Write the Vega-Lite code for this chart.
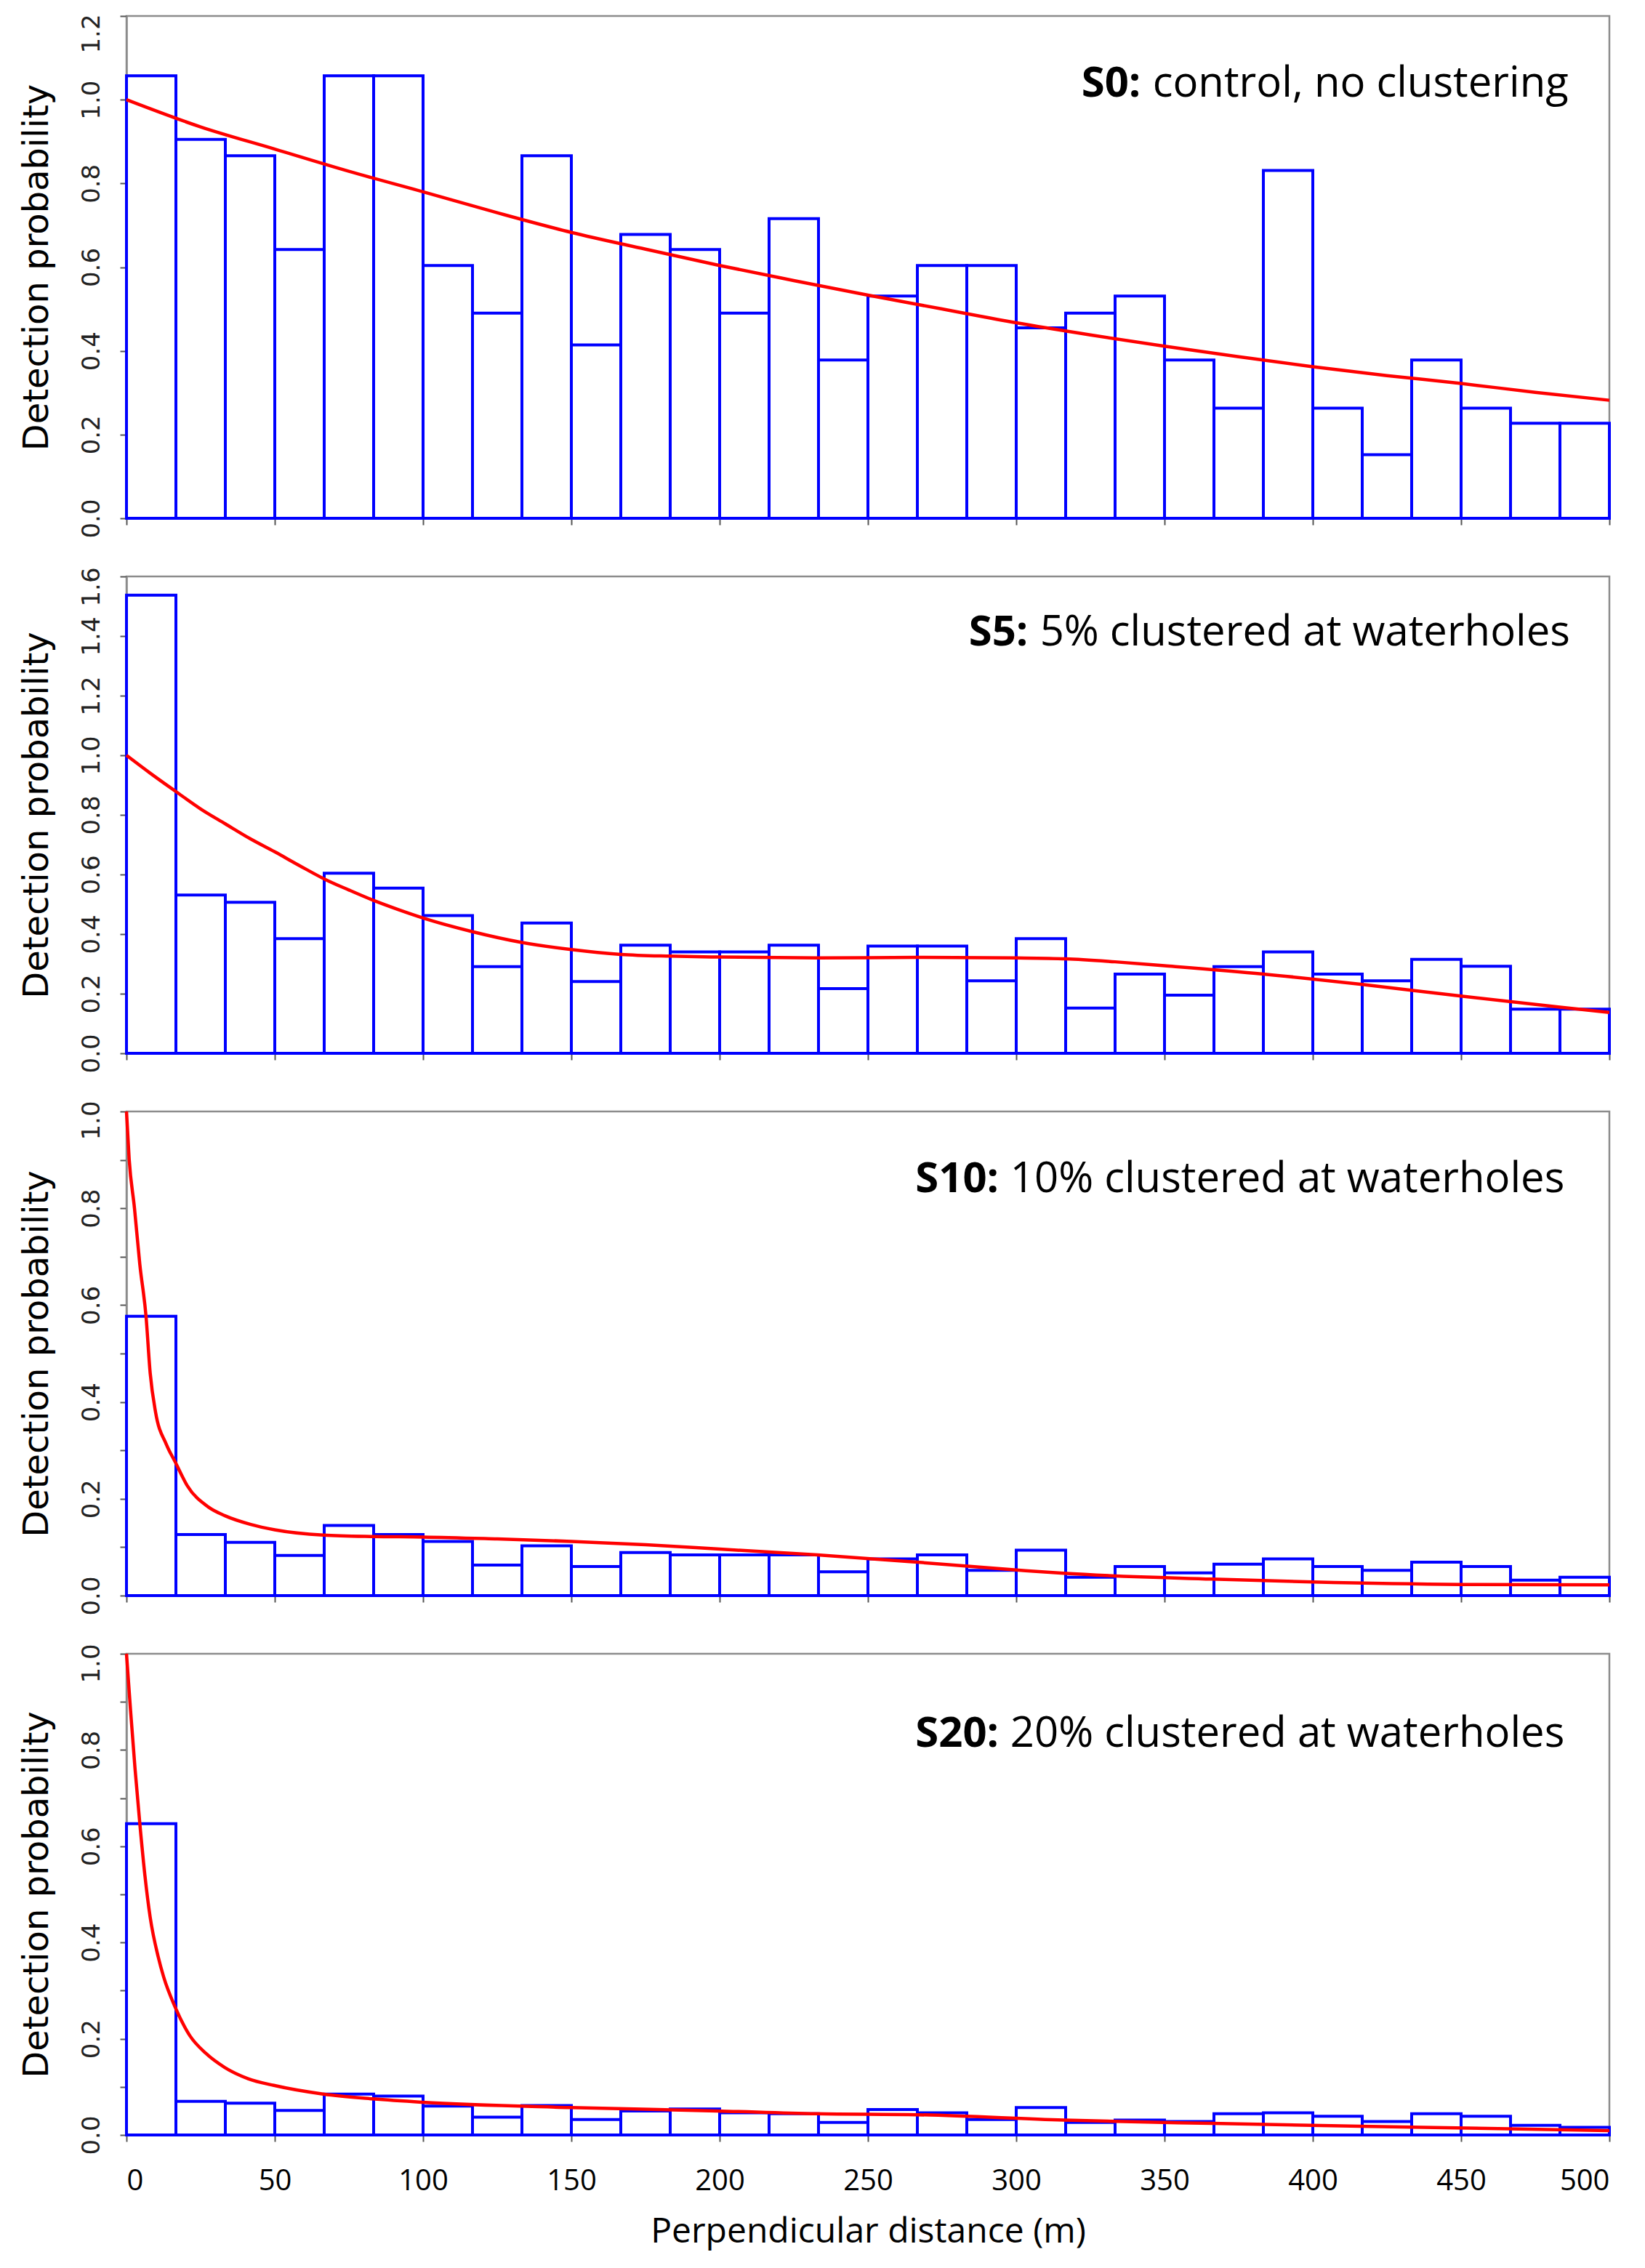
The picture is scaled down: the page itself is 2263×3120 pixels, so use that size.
{
  "$schema": "https://vega.github.io/schema/vega-lite/v6.json",
  "background": "white",
  "autosize": {"type": "pad"},
  "padding": {"left": 25, "top": 17, "right": 0, "bottom": 0},
  "bounds": "flush",
  "spacing": 80,
  "datasets": {
    "bars": [
      {"s":"S0","a":0,"b":16.667,"p":1.057},{"s":"S0","a":16.667,"b":33.333,"p":0.905},{"s":"S0","a":33.333,"b":50,"p":0.866},{"s":"S0","a":50,"b":66.667,"p":0.642},{"s":"S0","a":66.667,"b":83.333,"p":1.057},{"s":"S0","a":83.333,"b":100,"p":1.057},{"s":"S0","a":100,"b":116.667,"p":0.604},{"s":"S0","a":116.667,"b":133.333,"p":0.49},{"s":"S0","a":133.333,"b":150,"p":0.866},{"s":"S0","a":150,"b":166.667,"p":0.414},{"s":"S0","a":166.667,"b":183.333,"p":0.678},{"s":"S0","a":183.333,"b":200,"p":0.642},{"s":"S0","a":200,"b":216.667,"p":0.49},{"s":"S0","a":216.667,"b":233.333,"p":0.716},{"s":"S0","a":233.333,"b":250,"p":0.378},{"s":"S0","a":250,"b":266.667,"p":0.531},{"s":"S0","a":266.667,"b":283.333,"p":0.604},{"s":"S0","a":283.333,"b":300,"p":0.604},{"s":"S0","a":300,"b":316.667,"p":0.455},{"s":"S0","a":316.667,"b":333.333,"p":0.49},{"s":"S0","a":333.333,"b":350,"p":0.531},{"s":"S0","a":350,"b":366.667,"p":0.378},{"s":"S0","a":366.667,"b":383.333,"p":0.263},{"s":"S0","a":383.333,"b":400,"p":0.831},{"s":"S0","a":400,"b":416.667,"p":0.263},{"s":"S0","a":416.667,"b":433.333,"p":0.152},{"s":"S0","a":433.333,"b":450,"p":0.378},{"s":"S0","a":450,"b":466.667,"p":0.263},{"s":"S0","a":466.667,"b":483.333,"p":0.227},{"s":"S0","a":483.333,"b":500,"p":0.227},
      {"s":"S5","a":0,"b":16.667,"p":1.537},{"s":"S5","a":16.667,"b":33.333,"p":0.531},{"s":"S5","a":33.333,"b":50,"p":0.507},{"s":"S5","a":50,"b":66.667,"p":0.385},{"s":"S5","a":66.667,"b":83.333,"p":0.604},{"s":"S5","a":83.333,"b":100,"p":0.554},{"s":"S5","a":100,"b":116.667,"p":0.462},{"s":"S5","a":116.667,"b":133.333,"p":0.291},{"s":"S5","a":133.333,"b":150,"p":0.437},{"s":"S5","a":150,"b":166.667,"p":0.241},{"s":"S5","a":166.667,"b":183.333,"p":0.363},{"s":"S5","a":183.333,"b":200,"p":0.34},{"s":"S5","a":200,"b":216.667,"p":0.34},{"s":"S5","a":216.667,"b":233.333,"p":0.363},{"s":"S5","a":233.333,"b":250,"p":0.217},{"s":"S5","a":250,"b":266.667,"p":0.36},{"s":"S5","a":266.667,"b":283.333,"p":0.36},{"s":"S5","a":283.333,"b":300,"p":0.243},{"s":"S5","a":300,"b":316.667,"p":0.385},{"s":"S5","a":316.667,"b":333.333,"p":0.152},{"s":"S5","a":333.333,"b":350,"p":0.266},{"s":"S5","a":350,"b":366.667,"p":0.195},{"s":"S5","a":366.667,"b":383.333,"p":0.291},{"s":"S5","a":383.333,"b":400,"p":0.34},{"s":"S5","a":400,"b":416.667,"p":0.266},{"s":"S5","a":416.667,"b":433.333,"p":0.243},{"s":"S5","a":433.333,"b":450,"p":0.315},{"s":"S5","a":450,"b":466.667,"p":0.292},{"s":"S5","a":466.667,"b":483.333,"p":0.148},{"s":"S5","a":483.333,"b":500,"p":0.148},
      {"s":"S10","a":0,"b":16.667,"p":0.577},{"s":"S10","a":16.667,"b":33.333,"p":0.126},{"s":"S10","a":33.333,"b":50,"p":0.11},{"s":"S10","a":50,"b":66.667,"p":0.083},{"s":"S10","a":66.667,"b":83.333,"p":0.145},{"s":"S10","a":83.333,"b":100,"p":0.126},{"s":"S10","a":100,"b":116.667,"p":0.112},{"s":"S10","a":116.667,"b":133.333,"p":0.063},{"s":"S10","a":133.333,"b":150,"p":0.103},{"s":"S10","a":150,"b":166.667,"p":0.06},{"s":"S10","a":166.667,"b":183.333,"p":0.089},{"s":"S10","a":183.333,"b":200,"p":0.084},{"s":"S10","a":200,"b":216.667,"p":0.084},{"s":"S10","a":216.667,"b":233.333,"p":0.084},{"s":"S10","a":233.333,"b":250,"p":0.049},{"s":"S10","a":250,"b":266.667,"p":0.076},{"s":"S10","a":266.667,"b":283.333,"p":0.084},{"s":"S10","a":283.333,"b":300,"p":0.052},{"s":"S10","a":300,"b":316.667,"p":0.094},{"s":"S10","a":316.667,"b":333.333,"p":0.038},{"s":"S10","a":333.333,"b":350,"p":0.06},{"s":"S10","a":350,"b":366.667,"p":0.047},{"s":"S10","a":366.667,"b":383.333,"p":0.065},{"s":"S10","a":383.333,"b":400,"p":0.076},{"s":"S10","a":400,"b":416.667,"p":0.06},{"s":"S10","a":416.667,"b":433.333,"p":0.052},{"s":"S10","a":433.333,"b":450,"p":0.069},{"s":"S10","a":450,"b":466.667,"p":0.06},{"s":"S10","a":466.667,"b":483.333,"p":0.032},{"s":"S10","a":483.333,"b":500,"p":0.038},
      {"s":"S20","a":0,"b":16.667,"p":0.647},{"s":"S20","a":16.667,"b":33.333,"p":0.07},{"s":"S20","a":33.333,"b":50,"p":0.066},{"s":"S20","a":50,"b":66.667,"p":0.051},{"s":"S20","a":66.667,"b":83.333,"p":0.085},{"s":"S20","a":83.333,"b":100,"p":0.081},{"s":"S20","a":100,"b":116.667,"p":0.06},{"s":"S20","a":116.667,"b":133.333,"p":0.037},{"s":"S20","a":133.333,"b":150,"p":0.061},{"s":"S20","a":150,"b":166.667,"p":0.032},{"s":"S20","a":166.667,"b":183.333,"p":0.05},{"s":"S20","a":183.333,"b":200,"p":0.054},{"s":"S20","a":200,"b":216.667,"p":0.046},{"s":"S20","a":216.667,"b":233.333,"p":0.044},{"s":"S20","a":233.333,"b":250,"p":0.026},{"s":"S20","a":250,"b":266.667,"p":0.053},{"s":"S20","a":266.667,"b":283.333,"p":0.046},{"s":"S20","a":283.333,"b":300,"p":0.032},{"s":"S20","a":300,"b":316.667,"p":0.057},{"s":"S20","a":316.667,"b":333.333,"p":0.026},{"s":"S20","a":333.333,"b":350,"p":0.031},{"s":"S20","a":350,"b":366.667,"p":0.028},{"s":"S20","a":366.667,"b":383.333,"p":0.044},{"s":"S20","a":383.333,"b":400,"p":0.046},{"s":"S20","a":400,"b":416.667,"p":0.039},{"s":"S20","a":416.667,"b":433.333,"p":0.028},{"s":"S20","a":433.333,"b":450,"p":0.044},{"s":"S20","a":450,"b":466.667,"p":0.039},{"s":"S20","a":466.667,"b":483.333,"p":0.02},{"s":"S20","a":483.333,"b":500,"p":0.016}
    ],
    "curve": [
      {"s":"S0","d":0,"p":1.0},{"s":"S0","d":25,"p":0.935},{"s":"S0","d":50,"p":0.882},{"s":"S0","d":75,"p":0.829},{"s":"S0","d":100,"p":0.78},{"s":"S0","d":125,"p":0.73},{"s":"S0","d":150,"p":0.683},{"s":"S0","d":175,"p":0.643},{"s":"S0","d":200,"p":0.604},{"s":"S0","d":225,"p":0.568},{"s":"S0","d":250,"p":0.533},{"s":"S0","d":275,"p":0.5},{"s":"S0","d":300,"p":0.467},{"s":"S0","d":325,"p":0.438},{"s":"S0","d":350,"p":0.411},{"s":"S0","d":375,"p":0.386},{"s":"S0","d":400,"p":0.362},{"s":"S0","d":425,"p":0.341},{"s":"S0","d":450,"p":0.322},{"s":"S0","d":475,"p":0.301},{"s":"S0","d":500,"p":0.282},
      {"s":"S5","d":0,"p":1.0},{"s":"S5","d":8,"p":0.94},{"s":"S5","d":16.7,"p":0.878},{"s":"S5","d":25,"p":0.82},{"s":"S5","d":33.3,"p":0.77},{"s":"S5","d":41.7,"p":0.72},{"s":"S5","d":50,"p":0.676},{"s":"S5","d":58.3,"p":0.63},{"s":"S5","d":66.7,"p":0.585},{"s":"S5","d":75,"p":0.548},{"s":"S5","d":83.3,"p":0.513},{"s":"S5","d":91.7,"p":0.482},{"s":"S5","d":100,"p":0.454},{"s":"S5","d":116.7,"p":0.408},{"s":"S5","d":133.3,"p":0.372},{"s":"S5","d":150,"p":0.348},{"s":"S5","d":166.7,"p":0.332},{"s":"S5","d":183.3,"p":0.326},{"s":"S5","d":200,"p":0.323},{"s":"S5","d":233.3,"p":0.32},{"s":"S5","d":266.7,"p":0.322},{"s":"S5","d":300,"p":0.32},{"s":"S5","d":316.7,"p":0.317},{"s":"S5","d":333.3,"p":0.307},{"s":"S5","d":350,"p":0.294},{"s":"S5","d":383.3,"p":0.266},{"s":"S5","d":416.7,"p":0.231},{"s":"S5","d":450,"p":0.192},{"s":"S5","d":483.3,"p":0.155},{"s":"S5","d":500,"p":0.137},
      {"s":"S10","d":0,"p":1.0},{"s":"S10","d":0.9,"p":0.902},{"s":"S10","d":2.7,"p":0.8},{"s":"S10","d":4.5,"p":0.684},{"s":"S10","d":6.6,"p":0.576},{"s":"S10","d":8,"p":0.459},{"s":"S10","d":9.8,"p":0.379},{"s":"S10","d":13.4,"p":0.313},{"s":"S10","d":16.6,"p":0.274},{"s":"S10","d":20.5,"p":0.227},{"s":"S10","d":27.6,"p":0.183},{"s":"S10","d":33.2,"p":0.165},{"s":"S10","d":41.9,"p":0.147},{"s":"S10","d":50,"p":0.136},{"s":"S10","d":66.3,"p":0.125},{"s":"S10","d":83,"p":0.122},{"s":"S10","d":100,"p":0.121},{"s":"S10","d":125,"p":0.117},{"s":"S10","d":150,"p":0.112},{"s":"S10","d":175,"p":0.105},{"s":"S10","d":200,"p":0.096},{"s":"S10","d":233,"p":0.084},{"s":"S10","d":266.7,"p":0.069},{"s":"S10","d":300,"p":0.053},{"s":"S10","d":316,"p":0.046},{"s":"S10","d":366,"p":0.034},{"s":"S10","d":400,"p":0.028},{"s":"S10","d":450,"p":0.023},{"s":"S10","d":500,"p":0.022},
      {"s":"S20","d":0,"p":1.0},{"s":"S20","d":1.4,"p":0.88},{"s":"S20","d":2.9,"p":0.76},{"s":"S20","d":4.5,"p":0.647},{"s":"S20","d":6.2,"p":0.54},{"s":"S20","d":8,"p":0.452},{"s":"S20","d":10.7,"p":0.37},{"s":"S20","d":12.5,"p":0.329},{"s":"S20","d":16.6,"p":0.263},{"s":"S20","d":21.4,"p":0.206},{"s":"S20","d":26.7,"p":0.17},{"s":"S20","d":33.2,"p":0.14},{"s":"S20","d":41,"p":0.117},{"s":"S20","d":49.7,"p":0.103},{"s":"S20","d":66.3,"p":0.085},{"s":"S20","d":83,"p":0.075},{"s":"S20","d":99.6,"p":0.068},{"s":"S20","d":149.6,"p":0.057},{"s":"S20","d":199,"p":0.05},{"s":"S20","d":232.6,"p":0.044},{"s":"S20","d":266.7,"p":0.042},{"s":"S20","d":316,"p":0.031},{"s":"S20","d":366,"p":0.024},{"s":"S20","d":416,"p":0.018},{"s":"S20","d":466,"p":0.013},{"s":"S20","d":500,"p":0.009}
    ],
    "titles": [
      {"s":"S0","bold":"S0:","rest":"control, no clustering"},
      {"s":"S5","bold":"S5:","rest":"5% clustered at waterholes"},
      {"s":"S10","bold":"S10:","rest":"10% clustered at waterholes"},
      {"s":"S20","bold":"S20:","rest":"20% clustered at waterholes"}
    ]
  },
  "vconcat": [
    {
      "width": 2040, "height": 691,
      "layer": [
        {"data": {"name": "bars"}, "transform": [{"filter": "datum.s === 'S0'"}],
         "mark": {"type": "rect", "fill": "transparent", "stroke": "#0000ff", "strokeWidth": 4},
         "encoding": {
           "x": {"field": "a", "type": "quantitative", "scale": {"domain": [0, 500], "nice": false},
                 "axis": {"values": [0,50,100,150,200,250,300,350,400,450,500], "labels": false, "title": null}},
           "x2": {"field": "b"},
           "y": {"field": "p", "type": "quantitative", "scale": {"domain": [0, 1.2], "nice": false},
                 "axis": {"title": "Detection probability", "values": [0,0.2,0.4,0.6,0.8,1.0,1.2], "format": ".1f",
                          "labelOffset": {"condition": {"test": "datum.value === 1.2", "value": 24}, "value": 0}}},
           "y2": {"datum": 0}
         }},
        {"data": {"name": "curve"}, "transform": [{"filter": "datum.s === 'S0'"}],
         "mark": {"type": "line", "color": "#ff0000", "strokeWidth": 4.5, "interpolate": "monotone"},
         "encoding": {"x": {"field": "d", "type": "quantitative"}, "y": {"field": "p", "type": "quantitative"}}},
        {"data": {"name": "titles"}, "transform": [{"filter": "datum.s === 'S0'"}],
         "mark": {"type": "text", "align": "left", "baseline": "alphabetic", "font": "Open Sans", "fontSize": 58, "fontWeight": "bold", "color": "#000000"},
         "encoding": {"x": {"datum": 322}, "y": {"datum": 1.008}, "text": {"field": "bold"}}},
        {"data": {"name": "titles"}, "transform": [{"filter": "datum.s === 'S0'"}],
         "mark": {"type": "text", "align": "left", "baseline": "alphabetic", "font": "Open Sans", "fontSize": 58, "color": "#000000"},
         "encoding": {"x": {"datum": 346}, "y": {"datum": 1.008}, "text": {"field": "rest"}}}
      ]
    },
    {
      "width": 2040, "height": 656,
      "layer": [
        {"data": {"name": "bars"}, "transform": [{"filter": "datum.s === 'S5'"}],
         "mark": {"type": "rect", "fill": "transparent", "stroke": "#0000ff", "strokeWidth": 4},
         "encoding": {
           "x": {"field": "a", "type": "quantitative", "scale": {"domain": [0, 500], "nice": false},
                 "axis": {"values": [0,50,100,150,200,250,300,350,400,450,500], "labels": false, "title": null}},
           "x2": {"field": "b"},
           "y": {"field": "p", "type": "quantitative", "scale": {"domain": [0, 1.6], "nice": false},
                 "axis": {"title": "Detection probability", "values": [0,0.2,0.4,0.6,0.8,1.0,1.2,1.4,1.6], "format": ".1f",
                          "labelOffset": {"condition": {"test": "datum.value === 1.6", "value": 14}, "value": 0}}},
           "y2": {"datum": 0}
         }},
        {"data": {"name": "curve"}, "transform": [{"filter": "datum.s === 'S5'"}],
         "mark": {"type": "line", "color": "#ff0000", "strokeWidth": 4.5, "interpolate": "monotone"},
         "encoding": {"x": {"field": "d", "type": "quantitative"}, "y": {"field": "p", "type": "quantitative"}}},
        {"data": {"name": "titles"}, "transform": [{"filter": "datum.s === 'S5'"}],
         "mark": {"type": "text", "align": "left", "baseline": "alphabetic", "font": "Open Sans", "fontSize": 58, "fontWeight": "bold", "color": "#000000"},
         "encoding": {"x": {"datum": 284}, "y": {"datum": 1.368}, "text": {"field": "bold"}}},
        {"data": {"name": "titles"}, "transform": [{"filter": "datum.s === 'S5'"}],
         "mark": {"type": "text", "align": "left", "baseline": "alphabetic", "font": "Open Sans", "fontSize": 58, "color": "#000000"},
         "encoding": {"x": {"datum": 308}, "y": {"datum": 1.368}, "text": {"field": "rest"}}}
      ]
    },
    {
      "width": 2040, "height": 666,
      "layer": [
        {"data": {"name": "bars"}, "transform": [{"filter": "datum.s === 'S10'"}],
         "mark": {"type": "rect", "fill": "transparent", "stroke": "#0000ff", "strokeWidth": 4},
         "encoding": {
           "x": {"field": "a", "type": "quantitative", "scale": {"domain": [0, 500], "nice": false},
                 "axis": {"values": [0,50,100,150,200,250,300,350,400,450,500], "labels": false, "title": null}},
           "x2": {"field": "b"},
           "y": {"field": "p", "type": "quantitative", "scale": {"domain": [0, 1.0], "nice": false},
                 "axis": {"title": "Detection probability", "values": [0,0.1,0.2,0.3,0.4,0.5,0.6,0.7,0.8,0.9,1.0], "format": ".1f",
                          "labelExpr": "round(datum.value * 10) % 2 === 0 ? datum.label : ''",
                          "labelOffset": {"condition": {"test": "datum.value === 1", "value": 12}, "value": 0}}},
           "y2": {"datum": 0}
         }},
        {"data": {"name": "curve"}, "transform": [{"filter": "datum.s === 'S10'"}],
         "mark": {"type": "line", "color": "#ff0000", "strokeWidth": 4.5, "interpolate": "monotone"},
         "encoding": {"x": {"field": "d", "type": "quantitative"}, "y": {"field": "p", "type": "quantitative"}}},
        {"data": {"name": "titles"}, "transform": [{"filter": "datum.s === 'S10'"}],
         "mark": {"type": "text", "align": "left", "baseline": "alphabetic", "font": "Open Sans", "fontSize": 58, "fontWeight": "bold", "color": "#000000"},
         "encoding": {"x": {"datum": 266}, "y": {"datum": 0.834}, "text": {"field": "bold"}}},
        {"data": {"name": "titles"}, "transform": [{"filter": "datum.s === 'S10'"}],
         "mark": {"type": "text", "align": "left", "baseline": "alphabetic", "font": "Open Sans", "fontSize": 58, "color": "#000000"},
         "encoding": {"x": {"datum": 298}, "y": {"datum": 0.834}, "text": {"field": "rest"}}}
      ]
    },
    {
      "width": 2040, "height": 662,
      "layer": [
        {"data": {"name": "bars"}, "transform": [{"filter": "datum.s === 'S20'"}],
         "mark": {"type": "rect", "fill": "transparent", "stroke": "#0000ff", "strokeWidth": 4},
         "encoding": {
           "x": {"field": "a", "type": "quantitative", "scale": {"domain": [0, 500], "nice": false},
                 "axis": {"values": [0,50,100,150,200,250,300,350,400,450,500], "title": "Perpendicular distance (m)"}},
           "x2": {"field": "b"},
           "y": {"field": "p", "type": "quantitative", "scale": {"domain": [0, 1.0], "nice": false},
                 "axis": {"title": "Detection probability", "values": [0,0.1,0.2,0.3,0.4,0.5,0.6,0.7,0.8,0.9,1.0], "format": ".1f",
                          "labelExpr": "round(datum.value * 10) % 2 === 0 ? datum.label : ''",
                          "labelOffset": {"condition": {"test": "datum.value === 1", "value": 13}, "value": 0}}},
           "y2": {"datum": 0}
         }},
        {"data": {"name": "curve"}, "transform": [{"filter": "datum.s === 'S20'"}],
         "mark": {"type": "line", "color": "#ff0000", "strokeWidth": 4.5, "interpolate": "monotone"},
         "encoding": {"x": {"field": "d", "type": "quantitative"}, "y": {"field": "p", "type": "quantitative"}}},
        {"data": {"name": "titles"}, "transform": [{"filter": "datum.s === 'S20'"}],
         "mark": {"type": "text", "align": "left", "baseline": "alphabetic", "font": "Open Sans", "fontSize": 58, "fontWeight": "bold", "color": "#000000"},
         "encoding": {"x": {"datum": 266}, "y": {"datum": 0.807}, "text": {"field": "bold"}}},
        {"data": {"name": "titles"}, "transform": [{"filter": "datum.s === 'S20'"}],
         "mark": {"type": "text", "align": "left", "baseline": "alphabetic", "font": "Open Sans", "fontSize": 58, "color": "#000000"},
         "encoding": {"x": {"datum": 298}, "y": {"datum": 0.807}, "text": {"field": "rest"}}}
      ]
    }
  ],
  "config": {
    "view": {"stroke": "#8c8c8c", "strokeWidth": 2.5},
    "axis": {"grid": false, "domainColor": "#8c8c8c", "domainWidth": 2.5, "tickColor": "#555555", "tickWidth": 2, "zindex": 1, "labelOverlap": false},
    "axisY": {"labelFont": "DejaVu Sans", "labelFontSize": 34, "labelColor": "#222222", "labelAngle": 270, "labelAlign": "center", "labelBaseline": "bottom", "labelPadding": 22, "tickSize": 9,
              "titleFont": "DejaVu Sans", "titleFontSize": 48, "titleFontWeight": "normal", "titleColor": "#000000", "titlePadding": 34},
    "axisX": {"labelFont": "Open Sans", "labelFontSize": 40, "labelColor": "#000000", "labelAngle": 0, "labelPadding": 34, "tickSize": 9,
              "titleFont": "Open Sans", "titleFontSize": 48, "titleFontWeight": "normal", "titleColor": "#000000", "titlePadding": 26}
  }
}
